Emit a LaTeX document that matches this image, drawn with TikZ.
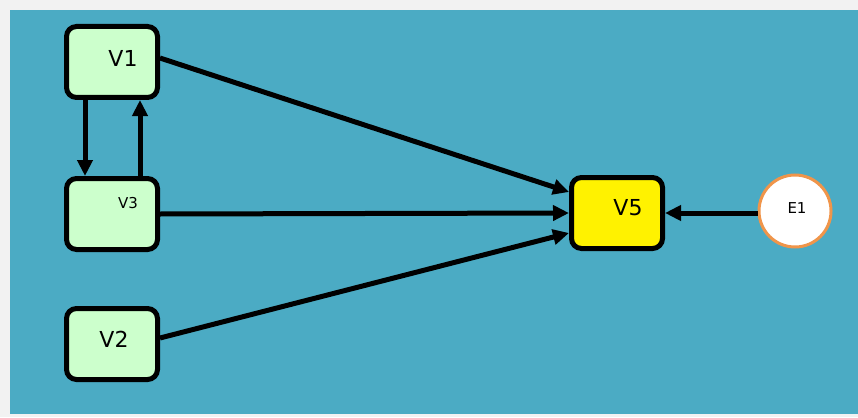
\documentclass[tikz,border=0pt]{standalone}
\usepackage{fontspec}
\setmainfont{DejaVu Sans}
\usetikzlibrary{arrows.meta}
\definecolor{bgteal}{HTML}{4BABC4}
\definecolor{lgreen}{HTML}{CCFFCC}
\definecolor{ering}{HTML}{F0954A}
\definecolor{frame}{HTML}{F2F2F2}
\begin{document}
\begin{tikzpicture}[x=1pt,y=-1pt,
  vbox/.style={draw=black,line width=5pt,rounded corners=10pt,fill=lgreen,minimum width=91pt,minimum height=71pt,inner sep=0pt},
  lab/.style={font=\fontsize{22}{22}\selectfont},
  conn/.style={line width=5pt,-{Triangle[length=16pt,width=15pt]}}]
\useasboundingbox (0,0) rectangle (858,417);
\fill[frame] (0,0) rectangle (858,417);
\fill[bgteal] (10,10) rectangle (858,414);
\node[vbox] (v1) at (112,62) {};
\node[vbox] (v3) at (112,214) {};
\node[vbox] (v2) at (112,344) {};
\node[vbox,fill=yellow] (v5) at (617,213) {};
\node[circle,draw=ering,fill=white,line width=3pt,minimum size=72pt,inner sep=0pt] (e1) at (795,211) {};
\node[lab] (t1) at (123,58) {V1};
\node[font=\fontsize{15}{15}\selectfont] (t3) at (128,203) {V3};
\node[lab] (t2) at (114,339) {V2};
\node[lab] (t5) at (628,208) {V5};
\node[font=\fontsize{15}{15}\selectfont] (te) at (797,208) {E1};
\draw[conn] (v1.east |- 0,58) -- (v5.west |- 0,192);
\draw[conn] (v3.east) -- (v5.west);
\draw[conn] (v2.east |- 0,338) -- (v5.west |- 0,233);
\draw[conn] (e1.west |- 0,213) -- (v5.east);
\draw[conn] (v1.south -| 85,0) -- (v3.north -| 85,0);
\draw[conn] (v3.north -| 140,0) -- (v1.south -| 140,0);
\end{tikzpicture}
\end{document}
